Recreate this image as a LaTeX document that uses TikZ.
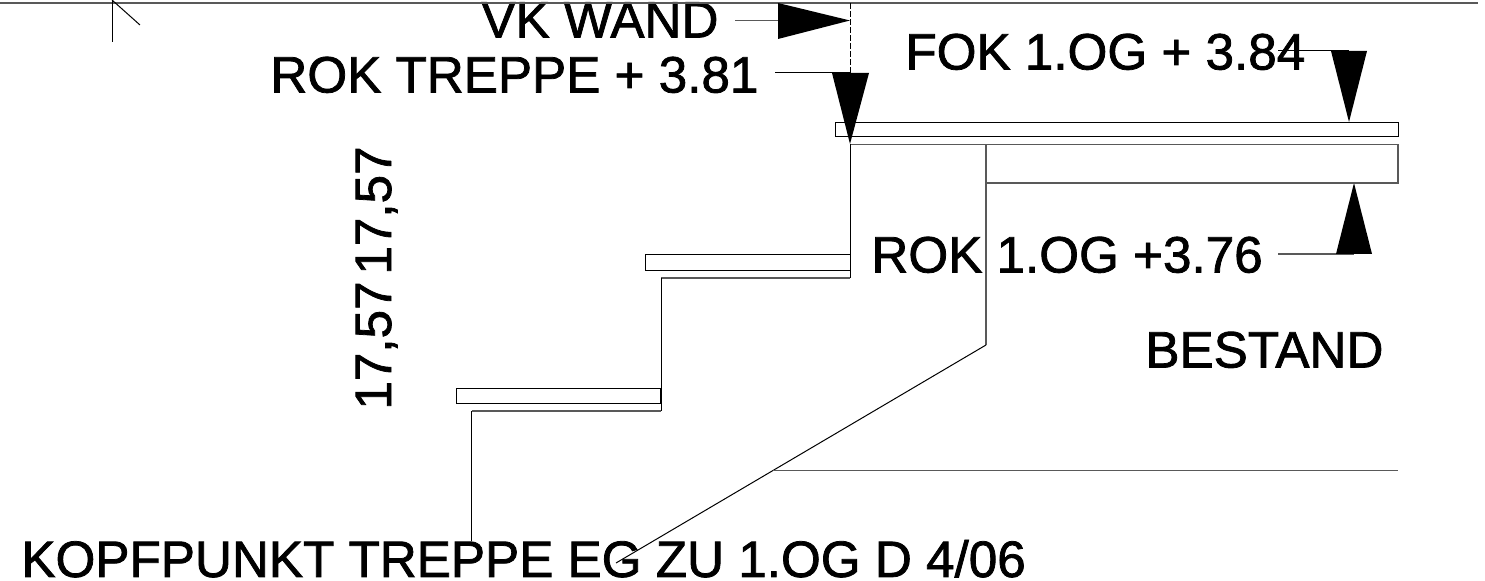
\documentclass[tikz,border=0pt]{standalone}
\usepackage{fontspec}
\setmainfont{Liberation Sans}[FakeBold=1.5]
\tikzset{
  ln/.style={draw=black,line width=0.5pt},
  gl/.style={draw=black!65,line width=0.6pt},
  head/.style={fill=black,draw=none},
  lab/.style={inner sep=0pt,anchor=base west,font=\fontsize{25.6pt}{28pt}\selectfont}
}
\begin{document}
\begin{tikzpicture}[x=0.5pt,y=-0.5pt]
\useasboundingbox (0,0) rectangle (1485,581);
\fill[white] (0,0) rectangle (1485,581);
% labels
\node[lab] (vk) at (481,37.5) {VK WAND};
\node[lab] (rt) at (270,92.5) {ROK TREPPE + 3.81};
\node[lab] (fok) at (905,69.5) {FOK 1.OG + 3.84};
\node[lab] (rok) at (871,272.5) {ROK 1.OG +3.76};
\node[lab] (best) at (1145,367.5) {BESTAND};
\node[lab] (kopf) at (21,577) {KOPFPUNKT TREPPE EG ZU 1.OG D 4/06};
\node[lab,rotate=90] (maa) at (391,410) {17,57};
\node[lab,rotate=90] (mab) at (391,275) {17,57};
% frame lines
\draw[gl] (0,3) -- (1478,3);
\draw[ln] (112,0) -- (112,42);
\draw[ln] (112,0) -- (140,25);
% coordinates
\coordinate (l1) at (735,20.5);
\coordinate (a1) at (778,20.5);
\coordinate (t1) at (850,20.5);
\coordinate (l2) at (775,73);
\coordinate (a2) at (850,73);
\coordinate (t2) at (850,144);
\coordinate (l3) at (1278,51);
\coordinate (a3) at (1349,51);
\coordinate (t3) at (1349,122);
\coordinate (l4) at (1278,254);
\coordinate (a4) at (1354,254);
\coordinate (t4) at (1354,183);
% leaders
\draw[gl] (l1) -- (a1);
\draw[ln] (l2) -- (a2);
\draw[ln] (l3) -- (a3);
\draw[gl] (l4) -- (a4);
\draw[ln,dash pattern=on 3pt off 1pt] (850,3) -- (a2);
% arrowheads
\fill[head] (778,3) -- (t1) -- (778,39) -- cycle;
\fill[head] (832,73) -- (t2) -- (869,73) -- cycle;
\fill[head] (1331,51) -- (t3) -- (1367,51) -- cycle;
\fill[head] (1336,254) -- (t4) -- (1372,254) -- cycle;
% landing
\draw[ln] (835,122.5) rectangle (1398,137);
\draw[gl] (850,144.5) -- (1398,144.5) -- (1398,183) -- (986,183);
\draw[gl] (986,144.5) -- (986,345);
\draw[ln] (986,345) -- (616,563);
\draw[gl] (773,470.5) -- (1398,470.5);
% stairs
\draw[ln] (850,144.5) -- (850,278);
\draw[ln] (645.5,255) rectangle (850,270.5);
\draw[gl] (850,278) -- (661,278);
\draw[ln] (661,278) -- (661,411);
\draw[ln] (456.5,388.5) rectangle (660,403.5);
\draw[gl] (661,411) -- (471.5,411);
\draw[ln] (471.5,411) -- (471.5,541);
\end{tikzpicture}
\end{document}
